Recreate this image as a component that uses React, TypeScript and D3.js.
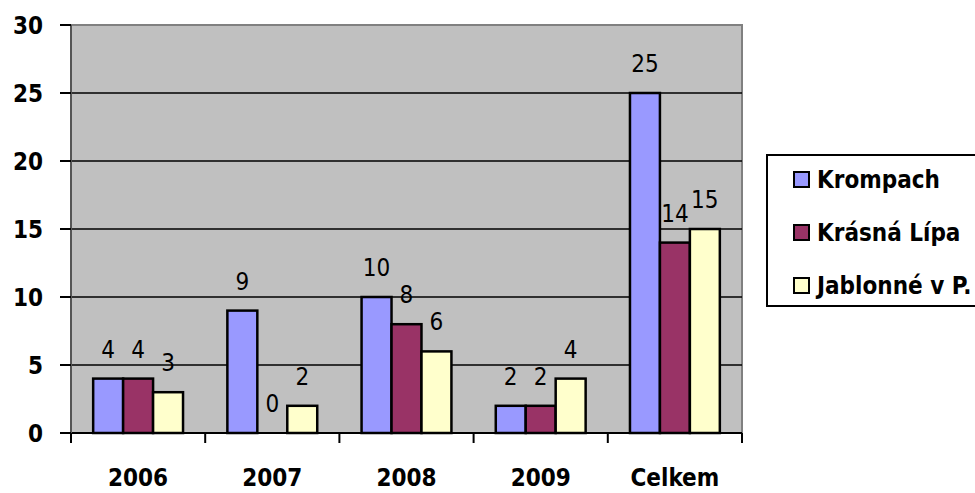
import React from 'react'
import * as d3 from 'd3'

const categories = ['2006', '2007', '2008', '2009', 'Celkem']
const seriesNames = ['Krompach', 'Krásná Lípa', 'Jablonné v P.']
const krompach = [4, 9, 10, 2, 25]
const krasnaLipa = [4, 0, 8, 2, 14]
const jablonne = [3, 2, 6, 4, 15]
const yTicks = [0, 5, 10, 15, 20, 25, 30]
const colors = ['#9999ff', '#993366', '#ffffcc']

const width = 975
const height = 493
const plot = { left: 71, right: 742, top: 25, bottom: 433 }
const font = '"DejaVu Sans Condensed", "DejaVu Sans", sans-serif'

const App = () => {
  const series = [krompach, krasnaLipa, jablonne]

  const x0 = d3.scaleBand().domain(categories).range([plot.left, plot.right])
  const x1 = d3
    .scaleBand()
    .domain(seriesNames)
    .range([0, x0.bandwidth()])
    .paddingOuter(0.74)
  const y = d3.scaleLinear().domain([0, 30]).range([plot.bottom, plot.top])

  const boundaries = [...categories.map(c => x0(c)), plot.right]

  return (
    <svg
      width={width}
      height={height}
      style={{ position: 'absolute', left: 0, top: 0, background: '#fff' }}
      fontFamily={font}
    >
      {/* plot area */}
      <rect
        x={plot.left}
        y={plot.top}
        width={plot.right - plot.left}
        height={plot.bottom - plot.top}
        fill='#c0c0c0'
        stroke='#808080'
        strokeWidth={2}
      />
      {yTicks.slice(1, -1).map(t => (
        <line
          key={'g' + t}
          x1={plot.left}
          x2={plot.right}
          y1={y(t)}
          y2={y(t)}
          stroke='#000'
          strokeWidth={1.5}
        />
      ))}

      {/* bars */}
      {categories.map((c, i) => (
        <g key={c} transform={`translate(${x0(c)},0)`}>
          {series.map((s, j) =>
            s[i] > 0 ? (
              <rect
                key={j}
                x={x1(seriesNames[j])}
                y={y(s[i])}
                width={x1.bandwidth()}
                height={plot.bottom - y(s[i])}
                fill={colors[j]}
                stroke='#000'
                strokeWidth={2.5}
              />
            ) : null
          )}
          {series.map((s, j) => (
            <text
              key={'l' + j}
              x={(x1(seriesNames[j]) as number) + x1.bandwidth() / 2}
              y={y(s[i]) - 21}
              textAnchor='middle'
              fontSize={24}
              fill='#000'
            >
              {s[i]}
            </text>
          ))}
        </g>
      ))}

      {/* axes */}
      <line
        x1={plot.left}
        x2={plot.right}
        y1={plot.bottom}
        y2={plot.bottom}
        stroke='#000'
        strokeWidth={2}
      />
      <line
        x1={plot.left}
        x2={plot.left}
        y1={plot.top}
        y2={plot.bottom}
        stroke='#555'
        strokeWidth={2}
      />
      {boundaries.map((bx, i) => (
        <line
          key={'xt' + i}
          x1={bx}
          x2={bx}
          y1={plot.bottom}
          y2={plot.bottom + 10}
          stroke='#000'
          strokeWidth={2}
        />
      ))}
      {categories.map(c => (
        <text
          key={'xl' + c}
          x={(x0(c) as number) + x0.bandwidth() / 2}
          y={486}
          textAnchor='middle'
          fontSize={24}
          fontWeight='bold'
        >
          {c}
        </text>
      ))}
      {yTicks.map(t => (
        <g key={'yt' + t}>
          <line
            x1={plot.left - 11}
            x2={plot.left}
            y1={y(t)}
            y2={y(t)}
            stroke='#000'
            strokeWidth={2}
          />
          <text
            x={43}
            y={y(t)}
            dy='0.36em'
            textAnchor='end'
            fontSize={24}
            fontWeight='bold'
          >
            {t}
          </text>
        </g>
      ))}

      {/* legend */}
      <rect
        x={767}
        y={155}
        width={215}
        height={151}
        fill='#fff'
        stroke='#000'
        strokeWidth={2}
      />
      {seriesNames.map((n, j) => (
        <g key={'lg' + n} transform={`translate(0,${179 + j * 53})`}>
          <rect x={794} y={-7} width={15} height={15} fill={colors[j]} stroke='#000' strokeWidth={2} />
          <text x={817} y={0} dy='0.36em' fontSize={24} fontWeight='bold'>
            {n}
          </text>
        </g>
      ))}
    </svg>
  )
}

export default App
